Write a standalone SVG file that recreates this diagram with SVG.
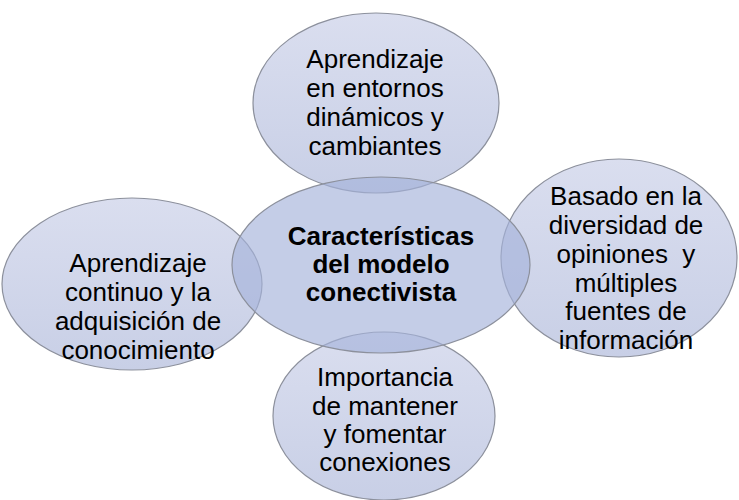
<svg xmlns="http://www.w3.org/2000/svg" width="739" height="500" viewBox="0 0 739 500">
<defs>
<linearGradient id="g" x1="0" y1="0" x2="0" y2="1">
<stop offset="0" stop-color="#dadeef"/>
<stop offset="1" stop-color="#c8cfe6"/>
</linearGradient>
<style>
.e{fill:url(#g);stroke:#8c909c;stroke-width:1.2}
.c{fill:#a5b2da;fill-opacity:0.65;stroke:#8c909c;stroke-width:1.2}
text{font-family:"Liberation Sans",Arial,sans-serif;font-size:26px;fill:#000;text-anchor:middle}
.b{font-weight:bold;font-size:26px}
</style>
</defs>
<rect width="739" height="500" fill="#fff"/>
<g id="connectors"></g>
<g id="n-top"><ellipse class="e" cx="376" cy="103" rx="123" ry="90"/>
<text><tspan x="375" y="68">Aprendizaje</tspan><tspan x="375" y="97">en entornos</tspan><tspan x="375" y="126">dinámicos y</tspan><tspan x="375" y="155">cambiantes</tspan></text></g>
<g id="n-left"><ellipse class="e" cx="132" cy="284" rx="130" ry="86"/>
<text><tspan x="138" y="272">Aprendizaje</tspan><tspan x="138" y="301">continuo y la</tspan><tspan x="138" y="330">adquisición de</tspan><tspan x="138" y="359">conocimiento</tspan></text></g>
<g id="n-right"><ellipse class="e" cx="619" cy="258" rx="118" ry="99"/>
<text><tspan x="626" y="205">Basado en la</tspan><tspan x="626" y="234">diversidad de</tspan><tspan x="626" y="263" xml:space="preserve">opiniones  y</tspan><tspan x="626" y="292">múltiples</tspan><tspan x="626" y="320">fuentes de</tspan><tspan x="626" y="349">información</tspan></text></g>
<g id="n-bottom"><ellipse class="e" cx="384" cy="416" rx="111" ry="84"/>
<text><tspan x="385" y="386">Importancia</tspan><tspan x="385" y="415">de mantener</tspan><tspan x="385" y="443">y fomentar</tspan><tspan x="385" y="471">conexiones</tspan></text></g>
<g id="n-center"><ellipse class="c" cx="381" cy="265" rx="149" ry="88"/>
<text class="b"><tspan x="381" y="245">Características</tspan><tspan x="381" y="273">del modelo</tspan><tspan x="381" y="301">conectivista</tspan></text></g>
</svg>
